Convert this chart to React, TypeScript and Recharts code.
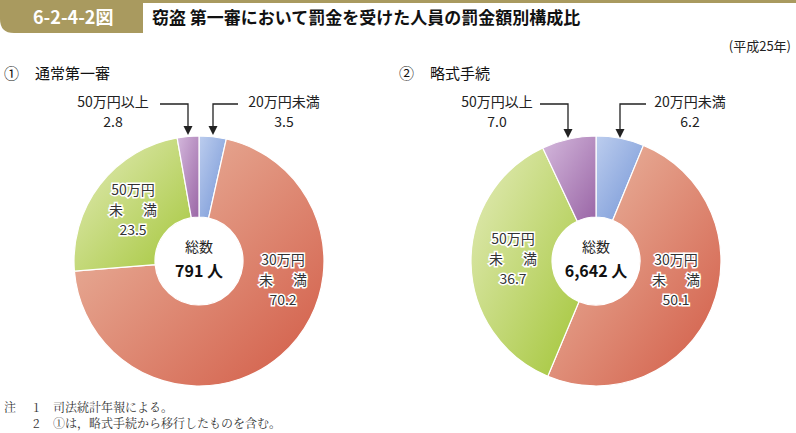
import React from 'react';
import { PieChart, Pie, Cell } from 'recharts';

// 罰金額の区分
const categories = ['20万円未満', '30万円未満', '50万円未満', '50万円以上'];
// ① 通常第一審 (%)
const regularValues = [3.5, 70.2, 23.5, 2.8];
// ② 略式手続 (%)
const summaryValues = [6.2, 50.1, 36.7, 7.0];
const totals = ['791', '6,642'];
const panelTitles = ['通常第一審', '略式手続'];
const notes = ['司法統計年報による。', '①は，略式手続から移行したものを含む。'];

const gradients = ['gBlue', 'gRed', 'gGreen', 'gPurple'];

const W = 796;
const H = 433;
const R_OUT = 125;
const R_IN = 44;
const JP = '"Noto Sans CJK JP", "Noto Sans", sans-serif';

const toRows = (vals: number[]) => categories.map((name, i) => ({ name, value: vals[i] }));

// positions of the in-ring labels, relative to the pie centre
const innerLabelOffset: Record<string, Record<string, [number, number]>> = {
  left: { '30万円未満': [84, 19], '50万円未満': [-66, -51] },
  right: { '30万円未満': [80, 19], '50万円未満': [-83, -2] },
};

const makeLabel = (side: 'left' | 'right') => (p: any) => {
  const off = innerLabelOffset[side][p.name];
  if (!off) return null;
  const x = p.cx + off[0];
  const y = p.cy + off[1];
  const head = p.name.replace('未満', '');
  const st = {
    fontFamily: JP,
    fontSize: 14,
    fill: '#333',
    stroke: '#fff',
    strokeWidth: 3,
    paintOrder: 'stroke' as const,
  };
  return (
    <g>
      <text x={x} y={y - 15} textAnchor="middle" style={st}>{head}</text>
      <text x={x - 17} y={y + 5} textAnchor="middle" style={st}>未</text>
      <text x={x + 17} y={y + 5} textAnchor="middle" style={st}>満</text>
      <text x={x} y={y + 25} textAnchor="middle" style={st}>{p.value.toFixed(1)}</text>
    </g>
  );
};

const Callout = ({ tx, lx, ex, tipY, name, value }: any) => (
  <g>
    <text x={tx} y={107} textAnchor="middle" fontFamily={JP} fontSize={14} fill="#222">{name}</text>
    <text x={tx} y={127} textAnchor="middle" fontFamily={JP} fontSize={14} fill="#222">{value.toFixed(1)}</text>
    <polyline points={`${lx},104 ${ex},104 ${ex},${tipY - 8}`} fill="none" stroke="#222" strokeWidth={1.3} />
    <polygon points={`${ex - 4.5},${tipY - 9} ${ex + 4.5},${tipY - 9} ${ex},${tipY}`} fill="#222" />
  </g>
);

const App = () => {
  const centres = [
    { cx: 199, cy: 261 },
    { cx: 596, cy: 261 },
  ];
  return (
    <div style={{ position: 'absolute', left: 0, top: 0, width: W, height: H, background: '#fff' }}>
      <PieChart width={W} height={H} margin={{ top: 0, right: 0, bottom: 0, left: 0 }}>
        <defs>
          <linearGradient id="gBlue" x1="0" y1="0" x2="1" y2="1">
            <stop offset="0%" stopColor="#bccdee" />
            <stop offset="100%" stopColor="#7495d6" />
          </linearGradient>
          <linearGradient id="gRed" x1="0" y1="0" x2="1" y2="1">
            <stop offset="0%" stopColor="#ecc0aa" />
            <stop offset="100%" stopColor="#d25a45" />
          </linearGradient>
          <linearGradient id="gGreen" x1="0" y1="0" x2="1" y2="1">
            <stop offset="0%" stopColor="#e4ecba" />
            <stop offset="100%" stopColor="#a4c63a" />
          </linearGradient>
          <linearGradient id="gPurple" x1="0" y1="0" x2="1" y2="1">
            <stop offset="0%" stopColor="#d4b8dc" />
            <stop offset="100%" stopColor="#9a66a6" />
          </linearGradient>
        </defs>
        <Pie
          data={toRows(regularValues)}
          dataKey="value"
          cx={centres[0].cx}
          cy={centres[0].cy}
          innerRadius={R_IN}
          outerRadius={R_OUT}
          startAngle={90}
          endAngle={-270}
          stroke="#fff"
          strokeWidth={1.2}
          label={makeLabel('left')}
          labelLine={false}
          isAnimationActive={false}
        >
          {categories.map((c, i) => (
            <Cell key={c} fill={`url(#${gradients[i]})`} />
          ))}
        </Pie>
        <Pie
          data={toRows(summaryValues)}
          dataKey="value"
          cx={centres[1].cx}
          cy={centres[1].cy}
          innerRadius={R_IN}
          outerRadius={R_OUT}
          startAngle={90}
          endAngle={-270}
          stroke="#fff"
          strokeWidth={1.2}
          label={makeLabel('right')}
          labelLine={false}
          isAnimationActive={false}
        >
          {categories.map((c, i) => (
            <Cell key={c} fill={`url(#${gradients[i]})`} />
          ))}
        </Pie>
      </PieChart>
      <svg width={W} height={H} style={{ position: 'absolute', left: 0, top: 0, pointerEvents: 'none' }}>
        {/* header */}
        <path d="M0,0 H143 V33 H14 Q0,33 0,19 Z" fill="#a99a5f" />
        <rect x={143} y={0} width={W - 143} height={3} fill="#a99a5f" />
        <text x={33} y={24} fontFamily={JP} fontSize={18} fontWeight={700} fill="#fff">6-2-4-2図</text>
        <text x={152} y={24} fontFamily={JP} fontSize={17} fontWeight={700} fill="#111">
          窃盗 第一審において罰金を受けた人員の罰金額別構成比
        </text>
        <text x={791} y={51} textAnchor="end" fontFamily={JP} fontSize={13} fill="#222">(平成25年)</text>

        {/* panel titles */}
        <text x={4} y={79} fontFamily={JP} fontSize={15} fill="#111">①</text>
        <text x={35} y={79} fontFamily={JP} fontSize={15} fill="#111">{panelTitles[0]}</text>
        <text x={399} y={79} fontFamily={JP} fontSize={15} fill="#111">②</text>
        <text x={430} y={79} fontFamily={JP} fontSize={15} fill="#111">{panelTitles[1]}</text>

        {/* callouts */}
        <Callout tx={113} lx={160} ex={188} tipY={135} name={categories[3]} value={regularValues[3]} />
        <Callout tx={284} lx={238} ex={213} tipY={135} name={categories[0]} value={regularValues[0]} />
        <Callout tx={497} lx={540} ex={568} tipY={138} name={categories[3]} value={summaryValues[3]} />
        <Callout tx={690} lx={646} ex={620} tipY={138} name={categories[0]} value={summaryValues[0]} />

        {/* totals */}
        {centres.map((c, i) => (
          <g key={i}>
            <text x={c.cx} y={c.cy - 9} textAnchor="middle" fontFamily={JP} fontSize={14} fill="#222">総数</text>
            <text x={c.cx} y={c.cy + 16} textAnchor="middle" fontFamily={JP} fontSize={16} fontWeight={700} fill="#111">
              {totals[i]} 人
            </text>
          </g>
        ))}

        {/* notes */}
        <g fontFamily={'"Noto Serif CJK JP", "DejaVu Serif", serif'} fontSize={12} fill="#333">
          <text x={4} y={412}>注</text>
          <text x={33} y={412}>1</text>
          <text x={53} y={412}>{notes[0]}</text>
          <text x={33} y={428}>2</text>
          <text x={53} y={428}>{notes[1]}</text>
        </g>
      </svg>
    </div>
  );
};

export default App;
